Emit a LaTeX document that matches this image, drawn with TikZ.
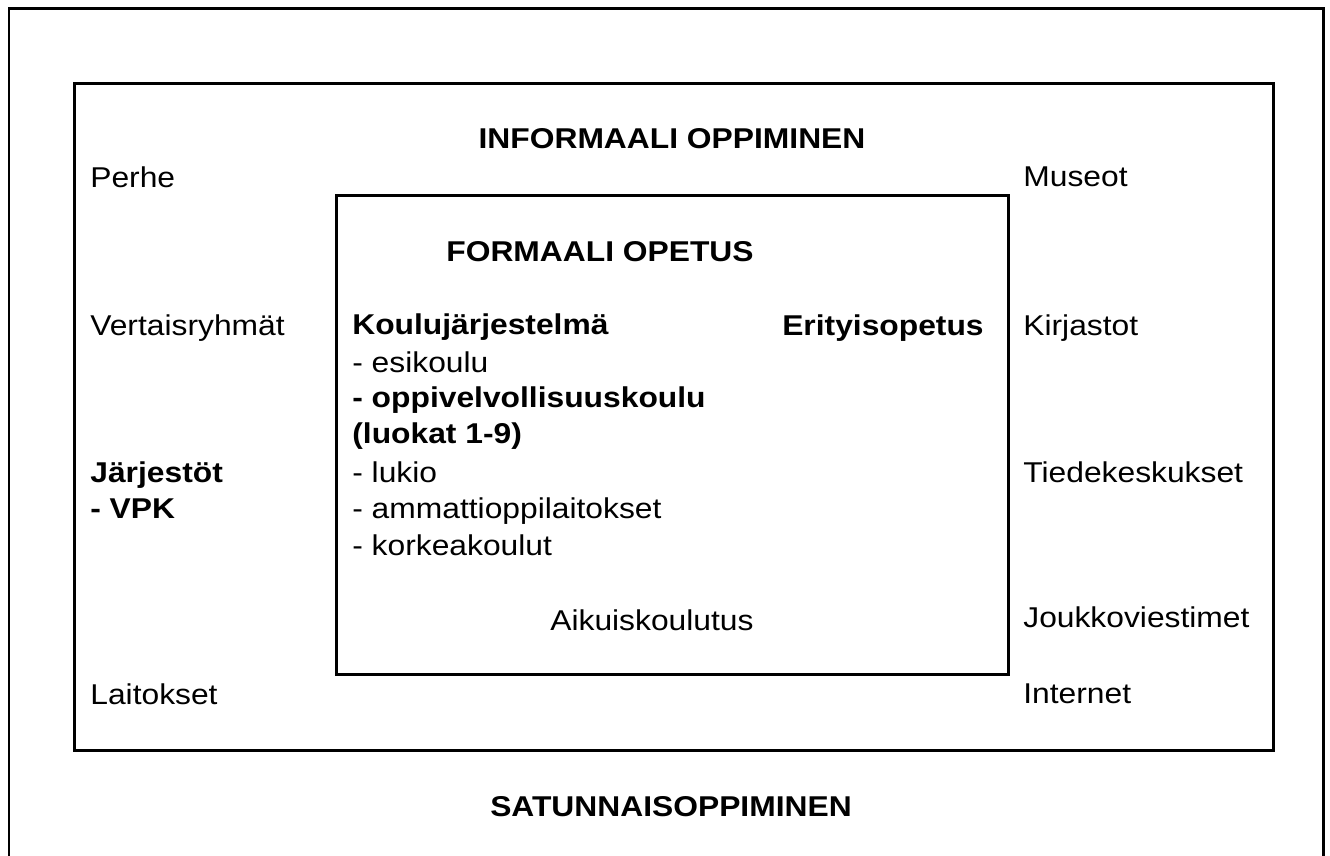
\documentclass[tikz,border=0pt]{standalone}
\usepackage{fontspec}
\setmainfont{Liberation Sans}[FakeStretch=1.11]
\usetikzlibrary{positioning}

\begin{document}
\begin{tikzpicture}[x=0.02cm,y=-0.02cm,
  frame/.style={draw=black,line width=0.06cm},
  txt/.style={font=\fontsize{16.3}{20}\selectfont,anchor=base west,inner sep=0pt},
  head/.style={font=\fontsize{16.3}{20}\selectfont\bfseries,anchor=base,inner sep=0pt}]
\useasboundingbox (0,0) rectangle (1330,856);
\fill[white] (0,0) rectangle (1330,856);
% outer frame, open at the bottom
\draw[frame] (9,857) -- (9,8) -- (1323,8) -- (1323,857);
\draw[frame] (74,83) rectangle (1273,750);
\draw[frame] (336,195) rectangle (1008,674);

\node[head] (informal) at (672,148) {INFORMAALI OPPIMINEN};
\node[head] (formal) at (600,261) {FORMAALI OPETUS};
\node[head] (random) at (671,816) {SATUNNAISOPPIMINEN};

% left column
\node[txt] (perhe) at (90,187) {Perhe};
\node[txt] (vertais) at (90,335) {Vertaisryhmät};
\node[txt,font=\fontsize{16.3}{20}\selectfont\bfseries] (jarj) at (90,482) {Järjestöt};
\node[txt,font=\fontsize{16.3}{20}\selectfont\bfseries] (vpk) at (90,518) {- VPK};
\node[txt] (laitokset) at (90,704) {Laitokset};

% right column
\node[txt] (museot) at (1023,186) {Museot};
\node[txt] (kirjastot) at (1023,335) {Kirjastot};
\node[txt] (tiede) at (1023,482) {Tiedekeskukset};
\node[txt] (joukko) at (1023,627) {Joukkoviestimet};
\node[txt] (internet) at (1023,703) {Internet};

% inner box
\node[txt,font=\fontsize{16.3}{20}\selectfont\bfseries] (koulu) at (352,334) {Koulujärjestelmä};
\node[txt,font=\fontsize{16.3}{20}\selectfont\bfseries,anchor=base east] (erityis) at (984,335) {Erityisopetus};
\node[txt] (esikoulu) at (352,372) {- esikoulu};
\node[txt,font=\fontsize{16.3}{20}\selectfont\bfseries] (oppi) at (352,407) {- oppivelvollisuuskoulu};
\node[txt,font=\fontsize{16.3}{20}\selectfont\bfseries] (luokat) at (352,443) {(luokat 1-9)};
\node[txt] (lukio) at (352,482) {- lukio};
\node[txt] (ammatti) at (352,518) {- ammattioppilaitokset};
\node[txt] (korkea) at (352,555) {- korkeakoulut};
\node[txt] (aikuis) at (550,630) {Aikuiskoulutus};

\end{tikzpicture}
\end{document}
